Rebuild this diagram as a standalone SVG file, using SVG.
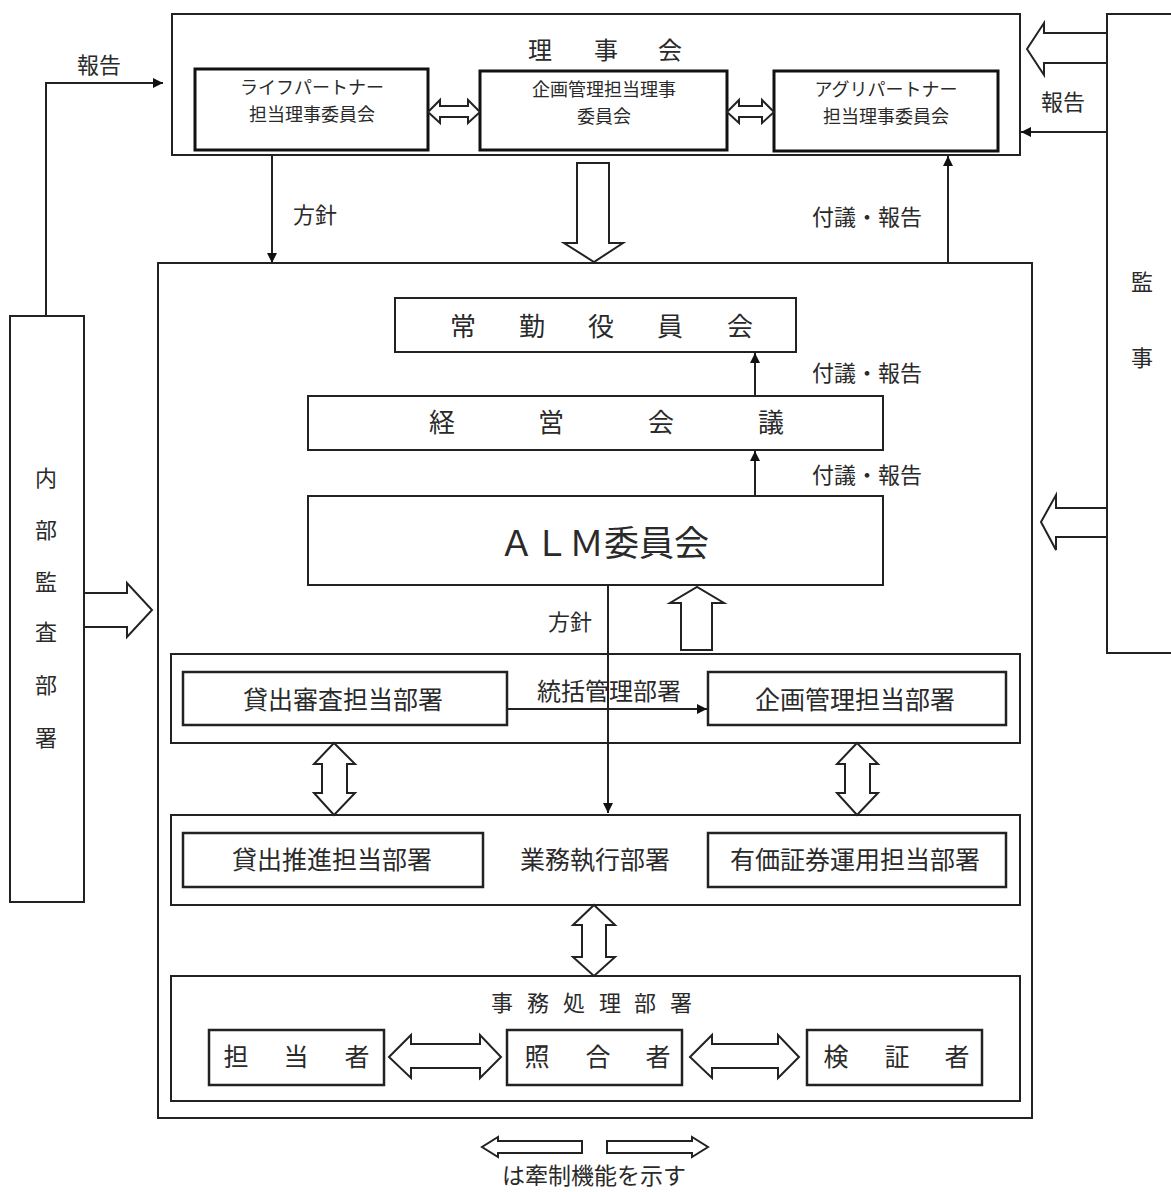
<svg xmlns="http://www.w3.org/2000/svg" width="1171" height="1192" viewBox="0 0 1171 1192">
<style>
text{font-family:"Noto Sans CJK JP","Noto Sans",sans-serif;fill:#2a2a2a;}
.box{fill:#fff;stroke:#222;stroke-width:2;}
.bold{fill:#fff;stroke:#111;stroke-width:3;}
.dept{fill:#fff;stroke:#222;stroke-width:2.5;}
.ln{fill:none;stroke:#222;stroke-width:2;}
.hol{fill:#fff;stroke:#222;stroke-width:2;stroke-linejoin:miter;}
.c{text-anchor:middle;}
.sub{font-size:18px;}
</style>
<defs>
<marker id="ah" viewBox="0 0 10 10" refX="10" refY="5" markerWidth="10" markerHeight="10" markerUnits="userSpaceOnUse" orient="auto">
<path d="M0,0 L10,5 L0,10 z" fill="#111"/>
</marker>
</defs>

<g id="rijikai">
<rect class="box" x="172" y="14" width="848" height="141"/>
<text class="c" font-size="24" x="540 606 670" y="59">理事会</text>
</g>
<g id="life">
<rect class="bold" x="195" y="69" width="233" height="81"/>
<text class="c sub" x="312" y="94">ライフパートナー</text>
<text class="c sub" x="312" y="121">担当理事委員会</text>
</g>
<g id="kikaku-riji">
<rect class="bold" x="480" y="71" width="247" height="79"/>
<text class="c sub" x="604" y="96">企画管理担当理事</text>
<text class="c sub" x="604" y="123">委員会</text>
</g>
<g id="agri">
<rect class="bold" x="774" y="71" width="224" height="80"/>
<text class="c sub" x="886" y="96">アグリパートナー</text>
<text class="c sub" x="886" y="123">担当理事委員会</text>
</g>

<g id="kansa">
<rect class="box" x="10" y="316" width="74" height="586"/>
<text class="c" font-size="22" x="46" y="486">内</text>
<text class="c" font-size="22" x="46" y="538">部</text>
<text class="c" font-size="22" x="46" y="590">監</text>
<text class="c" font-size="22" x="46" y="640">査</text>
<text class="c" font-size="22" x="46" y="693">部</text>
<text class="c" font-size="22" x="46" y="746">署</text>
</g>

<g id="kanji">
<rect class="box" x="1107" y="14" width="80" height="639"/>
<text class="c" font-size="22" x="1142" y="290">監</text>
<text class="c" font-size="22" x="1142" y="366">事</text>
</g>

<g id="main">
<rect class="box" x="158" y="263" width="874" height="855"/>
</g>

<g id="jokin">
<rect class="box" x="395" y="298" width="401" height="54"/>
<text class="c" font-size="26" x="463 532 601 670 740" y="336">常勤役員会</text>
</g>
<g id="keiei">
<rect class="box" x="308" y="396" width="575" height="54"/>
<text class="c" font-size="26" x="442 551 661 771" y="432">経営会議</text>
</g>
<g id="alm">
<rect class="box" x="308" y="496" width="575" height="89"/>
<text class="c" font-size="35" x="604" y="556">ＡＬＭ委員会</text>
</g>

<g id="tokatsu">
<rect class="box" x="171" y="654" width="849" height="89"/>
<text class="c" font-size="24" x="609" y="700">統括管理部署</text>
</g>
<g id="kashidashi-shinsa">
<rect class="dept" x="183" y="672" width="324" height="53"/>
<text class="c" font-size="25" x="343" y="709">貸出審査担当部署</text>
</g>
<g id="kikaku-bu">
<rect class="dept" x="708" y="672" width="298" height="53"/>
<text class="c" font-size="25" x="855" y="709">企画管理担当部署</text>
</g>

<g id="gyomu">
<rect class="box" x="171" y="815" width="849" height="90"/>
<text class="c" font-size="25" x="595" y="869">業務執行部署</text>
</g>
<g id="kashidashi-suishin">
<rect class="dept" x="183" y="833" width="300" height="54"/>
<text class="c" font-size="25" x="332" y="869">貸出推進担当部署</text>
</g>
<g id="yuka">
<rect class="dept" x="708" y="833" width="298" height="54"/>
<text class="c" font-size="25" x="855" y="869">有価証券運用担当部署</text>
</g>

<g id="jimu">
<rect class="box" x="171" y="976" width="849" height="125"/>
<text class="c" font-size="22" x="502 538 574 610 645 681" y="1011">事務処理部署</text>
</g>
<g id="tanto">
<rect class="dept" x="209" y="1030" width="175" height="55"/>
<text class="c" font-size="25" x="236 296 357" y="1066">担当者</text>
</g>
<g id="shogo">
<rect class="dept" x="507" y="1030" width="175" height="55"/>
<text class="c" font-size="25" x="537 598 658" y="1066">照合者</text>
</g>
<g id="kensho">
<rect class="dept" x="807" y="1030" width="175" height="55"/>
<text class="c" font-size="25" x="836 897 957" y="1066">検証者</text>
</g>

<g id="connectors">
<polyline class="ln" points="46,316 46,83 163,83" marker-end="url(#ah)"/>
<line class="ln" x1="272" y1="155" x2="272" y2="263" marker-end="url(#ah)"/>
<line class="ln" x1="948" y1="263" x2="948" y2="156" marker-end="url(#ah)"/>
<line class="ln" x1="1107" y1="132" x2="1021" y2="132" marker-end="url(#ah)"/>
<line class="ln" x1="755" y1="396" x2="755" y2="353" marker-end="url(#ah)"/>
<line class="ln" x1="755" y1="496" x2="755" y2="451" marker-end="url(#ah)"/>
<line class="ln" x1="608" y1="585" x2="608" y2="813" marker-end="url(#ah)"/>
<line class="ln" x1="507" y1="709" x2="707" y2="709" marker-end="url(#ah)"/>

<polygon class="hol" points="577,163 609,163 609,243 623,243 594,262 564,243 577,243"/>
<polygon class="hol" points="1107,33 1044,33 1044,23 1027,49 1044,75 1044,63 1107,63"/>
<polygon class="hol" points="1107,508 1056,508 1056,495 1041,522 1056,550 1056,537 1107,537"/>
<polygon class="hol" points="84,593 127,593 127,583 152,610 127,637 127,627 84,627"/>
<polygon class="hol" points="681,650 681,603 670,603 697,587 724,603 712,603 712,650"/>

<polygon class="hol" points="428,112 440,100 440,106 468,106 468,100 480,112 468,123 468,117 440,117 440,123"/>
<polygon class="hol" points="727,112 739,100 739,106 762,106 762,100 774,112 762,123 762,117 739,117 739,123"/>
<polygon class="hol" points="334,743 355,764 347,764 347,793 355,793 334,815 314,793 322,793 322,764 314,764"/>
<polygon class="hol" points="857,743 878,764 870,764 870,793 878,793 857,815 837,793 845,793 845,764 837,764"/>
<polygon class="hol" points="594,905 615,925 606,925 606,957 615,957 594,976 573,957 582,957 582,925 573,925"/>
<polygon class="hol" points="389,1057 411,1035 411,1044 480,1044 480,1035 501,1057 480,1078 480,1068 411,1068 411,1078"/>
<polygon class="hol" points="690,1057 712,1035 712,1044 778,1044 778,1035 799,1057 778,1078 778,1068 712,1068 712,1078"/>

<polygon class="hol" points="582,1141 498,1141 498,1137 482,1147 498,1157 498,1153 582,1153"/>
<polygon class="hol" points="607,1141 692,1141 692,1137 708,1147 692,1157 692,1153 607,1153"/>
</g>

<g id="labels">
<text class="c" font-size="22" x="99" y="73">報告</text>
<text class="c" font-size="22" x="315" y="223">方針</text>
<text class="c" font-size="22" x="867" y="225">付議・報告</text>
<text class="c" font-size="22" x="1063" y="110">報告</text>
<text class="c" font-size="22" x="867" y="381">付議・報告</text>
<text class="c" font-size="22" x="867" y="483">付議・報告</text>
<text class="c" font-size="22" x="570" y="630">方針</text>
<text class="c" font-size="23" x="594" y="1184">は牽制機能を示す</text>
</g>
</svg>
